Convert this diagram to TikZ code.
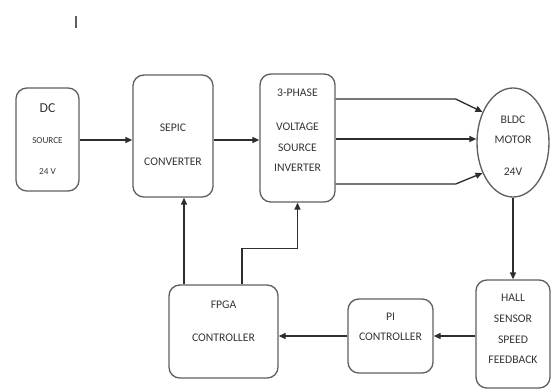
\documentclass[tikz,border=0pt]{standalone}
\usepackage{fontspec}
\setmainfont{Carlito}
\usetikzlibrary{arrows.meta, shapes.geometric, positioning}
\definecolor{boxgray}{RGB}{95, 95, 95}
\definecolor{wiregray}{RGB}{45, 45, 45}
\definecolor{textgray}{RGB}{50, 55, 50}
\tikzset{
  blk/.style   = {rectangle, rounded corners=6.5pt, draw=boxgray, line width=0.8pt, inner sep=0pt},
  motorblk/.style = {ellipse, draw=boxgray, line width=0.8pt, inner sep=0pt},
  txt/.style   = {align=center, text=textgray, font=\fontsize{7}{12}\selectfont, inner sep=0pt},
  flow/.style  = {-{Triangle[length=4.2pt, width=3.6pt]}, line width=0.8pt, wiregray},
  wire/.style  = {line width=0.8pt, wiregray},
}
\begin{document}
\begin{tikzpicture}[
    x=0.6pt, y=-0.6pt,
]
\useasboundingbox (0,0) rectangle (551,390);

% cursor mark at the top
\draw[wire, line width=1.1pt, boxgray] (76,16) -- (76,28);

% ===================== power path (top row) =====================
\node[blk, minimum width=37.8pt, minimum height=61.8pt,
      label={[txt]center:{\fontsize{8.2}{12}\selectfont DC\\[6.6pt]{\fontsize{5.5}{12}\selectfont SOURCE}\\[6.6pt]{\fontsize{5.5}{12}\selectfont 24 V}}}] (dc) at (47.5,139.5) {};
\node[blk, minimum width=48pt, minimum height=73.2pt,
      label={[txt, yshift=-5.4pt]center:{SEPIC\\[8.4pt]CONVERTER}}] (sepic) at (173,136) {};
\node[blk, minimum width=45pt, minimum height=76.8pt,
      label={[txt, yshift=4.5pt]center:{3-PHASE\\[8.4pt]VOLTAGE\\[0.6pt]SOURCE\\INVERTER}}] (vsi) at (297.5,138) {};
\node[motorblk, minimum width=43.2pt, minimum height=65.4pt,
      label={[txt, yshift=-2.1pt]center:{BLDC\\MOTOR\\[7.2pt]24V}}] (motor) at (513,142.5) {};

\draw[flow] ([yshift=-0.3pt]dc.east) -- ([yshift=-0.3pt]dc.east -| sepic.west);
\draw[flow] ([yshift=-2.4pt]sepic.east) -- ([yshift=-2.4pt]sepic.east -| vsi.west);

% three phases
\draw[flow] ([yshift=23.4pt]vsi.east) -- ++(120,0) -- (motor.135);
\draw[flow] ([yshift=-0.6pt]vsi.east) -- ([yshift=-0.6pt]vsi.east -| motor.west);
\draw[flow] ([yshift=-27.6pt]vsi.east) -- ++(120,0) -- (motor.225);

% ===================== feedback path (bottom row) =====================
\node[blk, minimum width=44.4pt, minimum height=64.8pt,
      label={[txt, yshift=3pt]center:{HALL\\[0.4pt]SENSOR\\[0.4pt]SPEED\\[0.4pt]FEEDBACK}}] (hall) at (513,334) {};
\node[blk, minimum width=51pt, minimum height=44.4pt,
      label={[txt, yshift=5.4pt]center:{PI\\CONTROLLER}}] (pi) at (390.5,336) {};
\node[blk, minimum width=65.4pt, minimum height=55.8pt,
      label={[txt, yshift=6pt]center:{FPGA\\[7.8pt]CONTROLLER}}] (fpga) at (223.5,331.5) {};

\draw[flow] (motor.south) -- (hall.north);
\draw[flow] (pi.east -| hall.west) -- (pi.east);
\draw[flow] (pi.west) -- (pi.west -| fpga.east);

% control signals
\draw[flow] ([xshift=-23.7pt]fpga.north) -- ([xshift=-23.7pt]fpga.north |- sepic.south);
\draw[flow] ([xshift=11.1pt]fpga.north) -- ++(0,-36) -| (vsi.south);

\end{tikzpicture}
\end{document}
